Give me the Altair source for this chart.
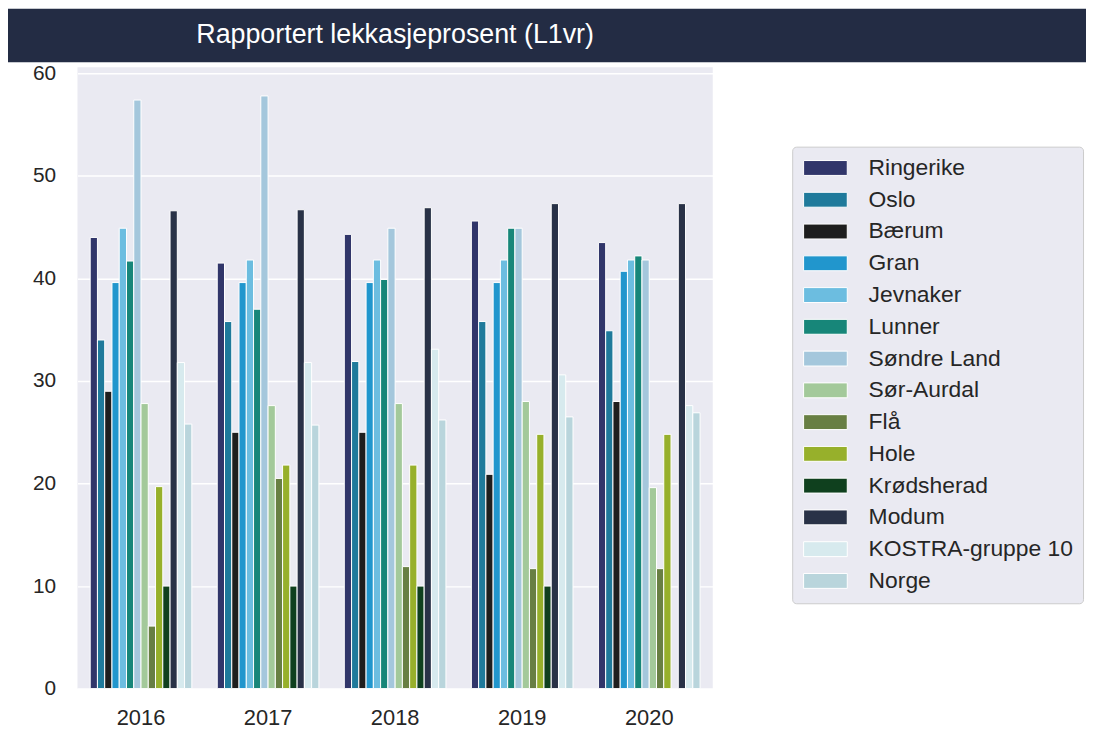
import altair as alt
import pandas as pd

years = ["2016", "2017", "2018", "2019", "2020"]

series = ["Ringerike", "Oslo", "Bærum", "Gran", "Jevnaker", "Lunner", "Søndre Land",
          "Sør-Aurdal", "Flå", "Hole", "Krødsherad", "Modum", "KOSTRA-gruppe 10", "Norge"]

colors = ["#31366a", "#1f7a9b", "#1e1e1e", "#2196cd", "#6cbde0", "#178679", "#a4c7dc",
          "#a3c99a", "#687f43", "#97b02b", "#0f401e", "#293247", "#d7eaee", "#b9d5dc"]

ringerike = [44.0, 41.5, 44.3, 45.6, 43.5]
oslo = [34.0, 35.8, 31.9, 35.8, 34.9]
baerum = [29.0, 25.0, 25.0, 20.9, 28.0]
gran = [39.6, 39.6, 39.6, 39.6, 40.7]
jevnaker = [44.9, 41.8, 41.8, 41.8, 41.8]
lunner = [41.7, 37.0, 39.9, 44.9, 42.2]
sondre_land = [57.4, 57.8, 44.9, 44.9, 41.8]
sor_aurdal = [27.8, 27.6, 27.8, 28.0, 19.6]
fla = [6.1, 20.5, 11.9, 11.7, 11.7]
hole = [19.7, 21.8, 21.8, 24.8, 24.8]
krodsherad = [10.0, 10.0, 10.0, 10.0, None]
modum = [46.6, 46.7, 46.9, 47.3, 47.3]
kostra = [31.8, 31.8, 33.1, 30.6, 27.6]
norge = [25.8, 25.7, 26.2, 26.5, 26.9]

values = [ringerike, oslo, baerum, gran, jevnaker, lunner, sondre_land,
          sor_aurdal, fla, hole, krodsherad, modum, kostra, norge]

rows = []
for s, vals in zip(series, values):
    for y, v in zip(years, vals):
        rows.append({"year": y, "kommune": s, "value": v})
df = pd.DataFrame(rows)

FONT = "Liberation Sans"
W, H = 640, 626

bars = alt.Chart(df).mark_bar(stroke="white", strokeWidth=1).encode(
    x=alt.X("year:N", title=None,
            scale=alt.Scale(paddingInner=0.2, paddingOuter=0.1),
            axis=alt.Axis(labelAngle=0, labelFontSize=22, labelColor="#262626",
                          labelFont=FONT, ticks=False, domain=False, grid=False,
                          labelPadding=19)),
    xOffset=alt.XOffset("kommune:N", sort=series,
                        scale=alt.Scale(paddingInner=0, paddingOuter=0)),
    y=alt.Y("value:Q", title=None,
            scale=alt.Scale(domain=[0, 60.6], nice=False, zero=True),
            axis=alt.Axis(values=[0, 10, 20, 30, 40, 50, 60], labelFontSize=21,
                          labelColor="#262626", labelFont=FONT, ticks=False,
                          domain=False, gridColor="white", gridWidth=1.5,
                          labelPadding=22)),
    color=alt.Color("kommune:N", sort=series,
                    scale=alt.Scale(domain=series, range=colors),
                    legend=alt.Legend(
                        title=None, orient="none", legendX=720, legendY=80,
                        symbolType="M-1,-0.75L3.4,-0.75L3.4,0.75L-1,0.75Z",
                        symbolSize=400, symbolStrokeColor="white",
                        symbolStrokeWidth=1, symbolOpacity=1,
                        labelFontSize=23, labelFont=FONT, labelColor="#262626",
                        labelOffset=44, rowPadding=8, padding=10,
                        fillColor="#eaeaf2", strokeColor="#cccccc",
                        cornerRadius=4, labelLimit=400)),
)

band = alt.Chart(alt.Data(values=[{}])).mark_rect(color="#232c44").encode(
    x=alt.value(-70), x2=alt.value(1016), y=alt.value(-59), y2=alt.value(-5)
)

title = alt.Chart(alt.Data(values=[{}])).mark_text(
    text="Rapportert lekkasjeprosent (L1vr)", color="white", fontSize=27,
    font=FONT, align="center", baseline="middle"
).encode(x=alt.value(W / 2), y=alt.value(-32))

chart = alt.layer(band, bars, title).properties(
    width=W, height=H,
    autosize=alt.AutoSizeParams(type="none"),
    padding={"left": 70, "top": 57, "right": 376, "bottom": 38},
    background="white",
).configure_view(fill="#eaeaf2", strokeWidth=0)

chart.save("out.html", embed_options={"renderer": "svg", "actions": False})
